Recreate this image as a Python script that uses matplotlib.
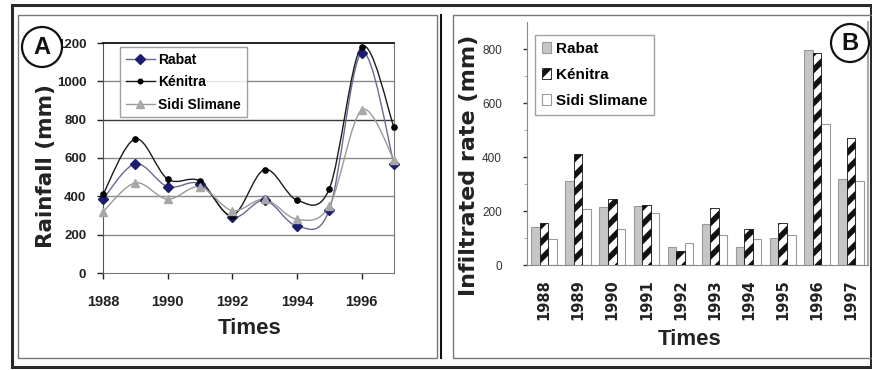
import matplotlib
matplotlib.use("Agg")
import matplotlib.pyplot as plt
from matplotlib.path import Path
from matplotlib.patches import PathPatch, Rectangle, Ellipse
from matplotlib.lines import Line2D
import numpy as np

plt.rcParams['font.family'] = ['Liberation Sans', 'DejaVu Sans']
plt.rcParams['font.weight'] = 'bold'
plt.rcParams['hatch.linewidth'] = 4.0

# ---- data ----
years = [1988, 1989, 1990, 1991, 1992, 1993, 1994, 1995, 1996, 1997]
year_labels = [str(y) for y in years]
series_names = ["Rabat", "Kénitra", "Sidi Slimane"]

rain_rabat = [385, 570, 450, 465, 290, 380, 245, 330, 1150, 570]
rain_kenitra = [410, 700, 490, 480, 300, 540, 380, 440, 1180, 760]
rain_sidi = [320, 470, 385, 450, 325, 385, 280, 350, 850, 590]

inf_rabat = [140, 310, 215, 218, 66, 152, 66, 99, 796, 320]
inf_kenitra = [156, 412, 244, 222, 52, 212, 134, 156, 785, 471]
inf_sidi = [96, 206, 134, 194, 81, 110, 96, 112, 522, 312]

W, H = 872, 370
fig = plt.figure(figsize=(W / 100, H / 100), dpi=100)
fig.patch.set_facecolor('white')

WIDE = ['DejaVu Sans']


def fx(px):
    return px / W


def fy(py):
    return 1 - py / H


def smooth_path(xs, ys):
    """Bezier path (Catmull-Rom control points) through the data points."""
    xs = np.asarray(xs, float)
    ys = np.asarray(ys, float)
    n = len(xs)
    P = np.column_stack([xs, ys])
    verts = [P[0]]
    codes = [Path.MOVETO]
    for i in range(n - 1):
        p0 = P[i - 1] if i > 0 else P[i]
        p1 = P[i]
        p2 = P[i + 1]
        p3 = P[i + 2] if i + 2 < n else P[i + 1]
        c1 = p1 + (p2 - p0) / 6.0
        c2 = p2 - (p3 - p1) / 6.0
        verts += [c1, c2, p2]
        codes += [Path.CURVE4] * 3
    return Path(verts, codes)


# ================= Panel A =================
axA = fig.add_axes([fx(103), fy(273), fx(394) - fx(103), fy(43) - fy(273)])
axA.set_xlim(1988, 1997)
axA.set_ylim(0, 1200)
axA.set_yticks([0, 200, 400, 600, 800, 1000, 1200])
axA.set_yticklabels(['0', '200', '400', '600', '800', '1000', '1200'])
axA.set_xticks([1988, 1990, 1992, 1994, 1996])
axA.set_xticklabels(['1988', '1990', '1992', '1994', '1996'])
for yv in [200, 400, 600, 1000]:
    axA.axhline(yv, color='#8a8a8a', lw=1.0, zorder=0)
axA.axhline(800, color='#3a3a3a', lw=1.0, zorder=0)
axA.tick_params(axis='y', labelsize=9.5, length=4, width=1, pad=8, colors='#222222')
axA.tick_params(axis='x', labelsize=10.5, length=4, width=1, pad=12, colors='#222222')
axA.spines['top'].set_color('#111111')
axA.spines['top'].set_linewidth(1.3)
axA.spines['right'].set_color('#777777')
axA.spines['left'].set_color('#555555')
axA.spines['bottom'].set_color('#777777')

styles = [
    dict(color='#6a6a90', mk='D', mfc='#1c1c70', mec='#1c1c70', ms=5.5, lw=1.0),
    dict(color='#1a1a1a', mk='o', mfc='#000000', mec='#000000', ms=3.8, lw=1.0),
    dict(color='#9a9a9a', mk='^', mfc='#a8a8a8', mec='#a8a8a8', ms=6, lw=1.0),
]
rain = [rain_rabat, rain_kenitra, rain_sidi]
order = [2, 0, 1]
for k in order:
    st = styles[k]
    axA.add_patch(PathPatch(smooth_path(years, rain[k]), fc='none', ec=st['color'],
                            lw=st['lw'], zorder=2 + k, clip_on=False))
    axA.plot(years, rain[k], ls='none', marker=st['mk'], mfc=st['mfc'], mec=st['mec'],
             ms=st['ms'], zorder=5 + k, clip_on=False)

handlesA = [Line2D([0], [0], color=st['color'], lw=1, marker=st['mk'], mfc=st['mfc'],
                   mec=st['mec'], ms=st['ms'] - 0.5) for st in styles]
legA = axA.legend(handlesA, series_names, loc='upper left',
                  bbox_to_anchor=(fx(120), fy(47)), bbox_transform=fig.transFigure,
                  prop=dict(size=10, weight='bold'), frameon=True, fancybox=False,
                  edgecolor='#888888', handlelength=2.1, handletextpad=0.25,
                  labelspacing=0.62, borderpad=0.4, borderaxespad=0)
legA.get_frame().set_linewidth(1.0)
legA.set_zorder(10)

axA.set_ylabel('Rainfall (mm)', fontsize=15.5, fontweight='bold', color='#222222',
               family=WIDE)
axA.yaxis.set_label_coords((56 - 103) / 291, (273 - 166) / 230)
axA.set_xlabel('Times', fontsize=16, fontweight='bold', color='#222222')
axA.xaxis.set_label_coords((250 - 103) / 291, (273 - 318) / 230)

# ================= Panel B =================
axB = fig.add_axes([fx(527), fy(265), fx(868) - fx(527), fy(22) - fy(265)])
x = np.arange(len(years))
bw = 0.25
axB.bar(x - bw, inf_rabat, bw, color='#c6c6c6', edgecolor='#9a9a9a', lw=0.8, zorder=2)
axB.bar(x, inf_kenitra, bw, color='white', edgecolor='#111111', hatch='//', lw=0.6, zorder=3)
axB.bar(x + bw, inf_sidi, bw, color='white', edgecolor='#9a9a9a', lw=0.8, zorder=2)
axB.set_xlim(-0.5, len(years) - 0.5)
axB.set_ylim(0, 900)
axB.set_yticks([0, 200, 400, 600, 800])
axB.set_yticks([100, 300, 500, 700], minor=True)
axB.set_xticks(x)
axB.set_xticklabels(year_labels, rotation=90, family=WIDE)
axB.tick_params(axis='y', labelsize=8.5, length=3, width=1, pad=15, colors='#333333')
for lab in axB.get_yticklabels():
    lab.set_fontweight('normal')
axB.tick_params(axis='y', which='minor', length=2, colors='#999999')
axB.tick_params(axis='x', labelsize=10.5, length=0, pad=10, colors='#222222')
for s in ['left', 'bottom']:
    axB.spines[s].set_color('#8a8a8a')
axB.spines['top'].set_visible(False)
axB.spines['right'].set_color('#aaaaaa')
axB.spines['right'].set_linewidth(1.5)

handlesB = [
    Rectangle((0, 0), 1, 1, fc='#c6c6c6', ec='#9a9a9a', lw=0.8),
    Rectangle((0, 0), 1, 1, fc='white', ec='#111111', hatch='//', lw=0.6),
    Rectangle((0, 0), 1, 1, fc='white', ec='#9a9a9a', lw=0.8),
]
legB = axB.legend(handlesB, series_names, loc='upper left',
                  bbox_to_anchor=(fx(535), fy(35)), bbox_transform=fig.transFigure,
                  prop=dict(size=11, weight='bold'), frameon=True, fancybox=False,
                  edgecolor='#888888', handlelength=0.6, handleheight=0.7,
                  handletextpad=0.3, labelspacing=0.78, borderpad=0.45, borderaxespad=0)
legB.get_frame().set_linewidth(1.0)

axB.set_ylabel('Infiltrated rate (mm)', fontsize=16, fontweight='bold', color='#222222',
               family=WIDE)
axB.yaxis.set_label_coords((479 - 527) / 341, (265 - 165) / 243)
axB.set_xlabel('Times', fontsize=16, fontweight='bold', color='#222222')
axB.xaxis.set_label_coords((690 - 527) / 341, (265 - 329) / 243)

# ================= frames & panel letters =================
def rect(x0, y0, x1, y1, ec, lw):
    fig.add_artist(Rectangle((fx(x0), fy(y1)), fx(x1) - fx(x0), fy(y0) - fy(y1),
                             transform=fig.transFigure, fc='none', ec=ec, lw=lw))


rect(12, 5, 871, 367, '#2a2a2a', 2.2)
rect(18, 15, 437, 358, '#777777', 1.0)
rect(453, 15, 875, 358, '#777777', 1.0)
fig.add_artist(Line2D([fx(441), fx(441)], [fy(15), fy(358)], transform=fig.transFigure,
                      color='#111111', lw=1.5))

for (cx, cy, r, letter) in [(42, 47, 20, 'A'), (850, 43, 19, 'B')]:
    fig.add_artist(Ellipse((fx(cx), fy(cy)), 2 * r / W, 2 * r / H, transform=fig.transFigure,
                           fc='white', ec='#111111', lw=1.6, zorder=20))
    fig.text(fx(cx), fy(cy), letter, ha='center', va='center', fontsize=17,
             fontweight='bold', color='#111111', zorder=21)

fig.savefig('out.png', dpi=100, facecolor='white')
